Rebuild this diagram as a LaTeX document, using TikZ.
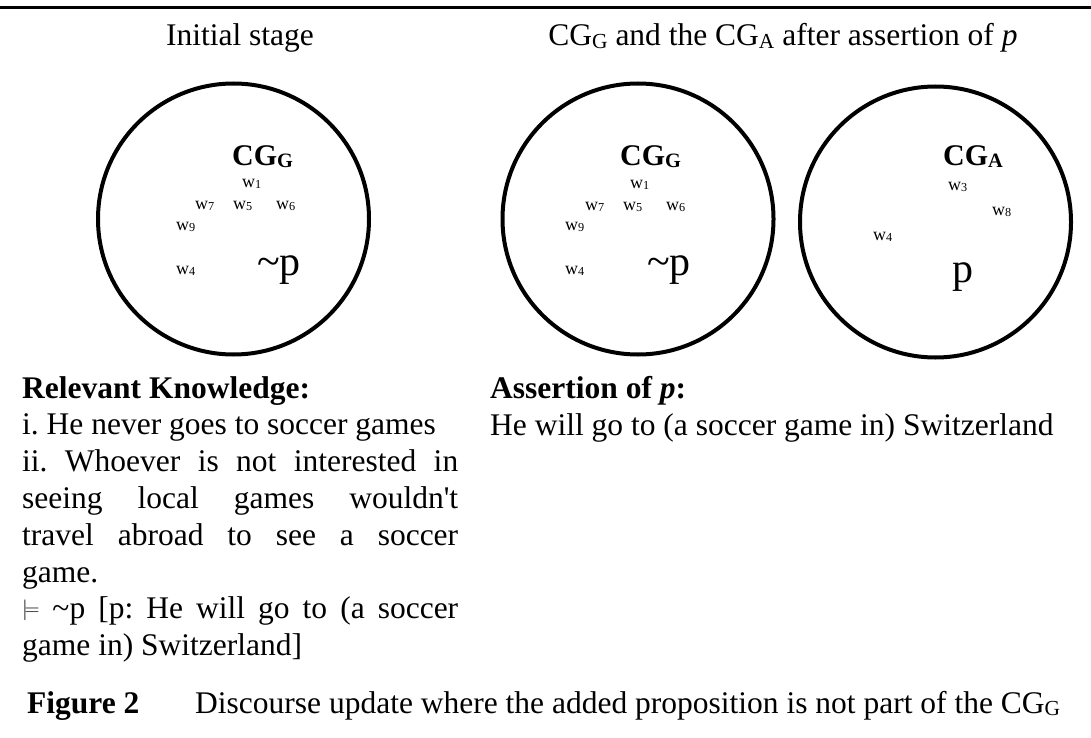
\documentclass[tikz,border=0pt]{standalone}
\usepackage{fontspec}
\setmainfont{Liberation Serif}
\usepackage{tikz}
\def\lowsub#1{\raisebox{-0.09em}{\scalebox{0.68}{#1}}}
\def\world#1{w\lowsub{#1}}
\def\worldnode{\node[font=\fontsize{18}{18}\selectfont,inner sep=0pt,anchor=base west]}
\def\cgnode{\node[font=\fontsize{30}{30}\selectfont\bfseries,inner sep=0pt,anchor=base west]}
\def\propnode{\node[font=\fontsize{42}{42}\selectfont,inner sep=0pt,anchor=base west]}

\begin{document}
\begin{tikzpicture}[x=1pt,y=-1pt,
  txt/.style={font=\fontsize{31.5}{36.8}\selectfont\frenchspacing,inner sep=0pt},
  cgset/.style={circle,draw,line width=4pt,minimum size=271pt,inner sep=0pt}]
\useasboundingbox (0,0) rectangle (1091,738);
\coordinate (ruleL) at (0,7.5);
\coordinate (ruleR) at (1091,7.5);
\draw[line width=3pt] (ruleL) -- (ruleR);

\node[txt,anchor=base] (stage1) at (240,46) {Initial stage};
\node[txt,anchor=base] (stage2) at (783,46) {CG\lowsub{G} and the CG\lowsub{A} after assertion of \textit{p}};

\node[cgset] (cgg1) at (233.5,219) {};
\node[cgset] (cgg2) at (638,219) {};
\node[cgset] (cga) at (935.5,222) {};

\cgnode (cgg1lab) at (232,165) {CG\lowsub{G}};
\worldnode (a1) at (242,187) {\world{1}};
\worldnode (a7) at (195,209) {\world{7}};
\worldnode (a5) at (233,209) {\world{5}};
\worldnode (a6) at (276,209) {\world{6}};
\worldnode (a9) at (176,230) {\world{9}};
\worldnode (a4) at (176,274) {\world{4}};
\propnode (notp1) at (257,275) {\textasciitilde p};

\cgnode (cgg2lab) at (620,165) {CG\lowsub{G}};
\worldnode (b1) at (630,188) {\world{1}};
\worldnode (b7) at (585,210) {\world{7}};
\worldnode (b5) at (623,210) {\world{5}};
\worldnode (b6) at (666,210) {\world{6}};
\worldnode (b9) at (565,230) {\world{9}};
\worldnode (b4) at (565,274) {\world{4}};
\propnode (notp2) at (647,275) {\textasciitilde p};

\cgnode (cgalab) at (943,165) {CG\lowsub{A}};
\worldnode (c3) at (948,190) {\world{3}};
\worldnode (c8) at (992,215) {\world{8}};
\worldnode (c4) at (873,240) {\world{4}};
\propnode (p) at (952,282) {p};

\node[txt,anchor=north west,text width=436pt,align=justify] (knowledge) at (22,376)
  {\hyphenpenalty=10000
   \textbf{Relevant Knowledge:}\par
   i. He never goes to soccer games\par
   ii. Whoever is not interested in\linebreak seeing local games wouldn\textquotesingle t\linebreak travel abroad to see a soccer\linebreak game.\par
   \raisebox{0.12em}{\fontsize{21}{21}\selectfont$\models$} \textasciitilde p [p: He will go to (a soccer\linebreak game in) Switzerland]};
\node[txt,anchor=north west,align=left] (assertion) at (490,376)
  {\textbf{Assertion of \textit{p}:}\\He will go to (a soccer game in) Switzerland};

\node[txt,anchor=base west] (figlabel) at (27,713) {\textbf{Figure 2}};
\node[txt,anchor=base west] (caption) at (195,713) {Discourse update where the added proposition is not part of the CG\lowsub{G}};
\end{tikzpicture}
\end{document}
